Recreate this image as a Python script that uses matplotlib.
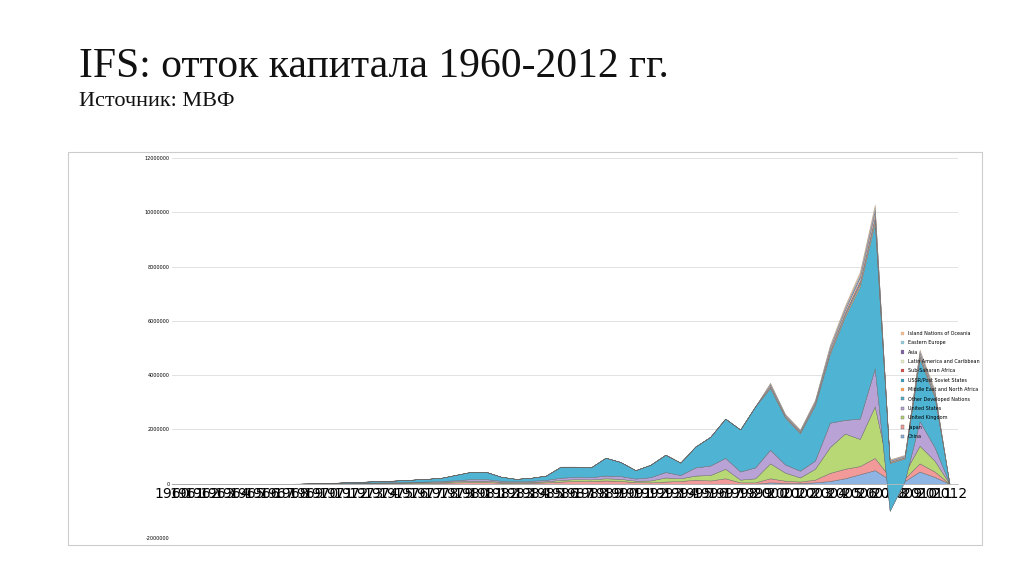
import numpy as np
import matplotlib
matplotlib.use("Agg")
import matplotlib.pyplot as plt
from matplotlib.patches import Rectangle

years = list(range(1960, 2013))
# totals read from the top edge of the stack (millions)
total = [0,0,0,0,0,0,0,0,0,0.01,
         0.03,0.04,0.06,0.08,0.10,0.12,0.15,0.18,0.22,0.33,
         0.44,0.44,0.26,0.18,0.22,0.30,0.63,0.63,0.60,0.96,
         0.80,0.50,0.70,1.07,0.78,1.37,1.73,2.40,2.00,2.85,
         3.73,2.58,2.00,3.10,5.13,6.57,7.82,10.3,0.90,1.07,4.95,3.47,0.0]
china = [0]*40 + [0.05,0.03,0.03,0.05,0.1,0.2,0.35,0.5,0.15,0.1,0.45,0.25,0]
japan = [0]*10 + [.01,.01,.01,.02,.02,.02,.03,.03,.04,.05,
                  .06,.06,.04,.03,.04,.05,.08,.1,.1,.12,
                  .1,.06,.05,.08,.1,.15,.12,.2,.05,.05,
                  .15,.08,.05,.1,.3,.35,.3,.45,.1,.1,.3,.2,0]
uk = [0]*10 + [.01,.01,.01,.01,.02,.02,.02,.03,.03,.04,
               .05,.05,.03,.03,.03,.04,.06,.07,.06,.08,
               .08,.05,.07,.15,.1,.15,.2,.35,.1,.15,
               .55,.3,.15,.4,.95,1.3,1.0,1.9,.1,.2,.65,.4,0]
us = [0]*10 + [.01,.01,.01,.01,.01,.02,.02,.02,.03,.04,
               .06,.06,.04,.03,.04,.05,.08,.08,.08,.1,
               .1,.08,.12,.2,.12,.3,.35,.4,.3,.4,
               .5,.3,.25,.3,.9,.5,.75,1.4,-1.35,-0.3,.9,.5,0]
small = [0]*40 + [.03,.02,.02,.03,.05,.06,.08,.1,.02,.02,.05,.04,0]

names = ["China","Japan","United Kingdom","United States","Other Developed Nations",
         "Middle East and North Africa","USSR/Post Soviet States","Sub-Saharan Africa",
         "Latin America and Caribbean","Asia","Eastern Europe","Island Nations of Oceania"]
colors = ["#8DB4E2","#F29A9A","#B8D876","#B9A2D6","#4FB3D4","#F7A35C","#3E9CC0",
          "#D0504D","#E3EDC5","#8064A2","#93CDDD","#FAC090"]

T = np.array(total)
base = [np.array(china), np.array(japan), np.array(uk), np.array(us)]
sm = np.array(small)
od = T - sum(base) - 7*sm
layers = base + [od] + [sm]*7

fig = plt.figure(figsize=(10.24, 5.74), dpi=100)
fig.patches.append(Rectangle((0.066, 0.0505), 0.893, 0.685, transform=fig.transFigure,
                             fill=False, edgecolor="#cccccc", lw=0.8))
fig.text(0.077, 0.865, "IFS: отток капитала 1960-2012 гг.", family="Liberation Serif",
         fontsize=30, color="#111111")
fig.text(0.077, 0.815, "Источник: МВФ", family="Liberation Serif", fontsize=16, color="#111111")

ax = fig.add_axes([0.168, 0.0627, 0.768, 0.662])
polys = ax.stackplot(years, [l*1e6 for l in layers], colors=colors, labels=names,
                     edgecolor="#666666", linewidth=0.3)
for p in polys[5:]:
    p.set_linewidth(0.1)
ax.set_xlim(1960, 2012.6)
ax.set_ylim(-2e6, 12e6)
ax.set_yticks(np.arange(-2e6, 12.1e6, 2e6))
ax.set_yticklabels([str(int(v)) for v in np.arange(-2e6, 12.1e6, 2e6)], fontsize=3.5)
ax.set_xticks(years)
ax.set_xticklabels([str(y) for y in years], fontsize=3.5)
ax.tick_params(length=0, pad=2)
for k, s in ax.spines.items():
    s.set_visible(False)
ax.spines["bottom"].set_visible(True)
ax.spines["bottom"].set_position(("data", 0))
ax.spines["bottom"].set_color("#bbbbbb")
ax.spines["bottom"].set_linewidth(0.6)
ax.grid(axis="y", color="#dddddd", lw=0.6)
ax.set_axisbelow(True)
h, l = ax.get_legend_handles_labels()
ax.legend(h[::-1], l[::-1], fontsize=3.5, frameon=False, loc="upper left",
          bbox_to_anchor=(0.925, 0.55), handlelength=0.6, handleheight=0.6,
          labelspacing=0.9, borderaxespad=0)
fig.savefig("out.png", dpi=100)
